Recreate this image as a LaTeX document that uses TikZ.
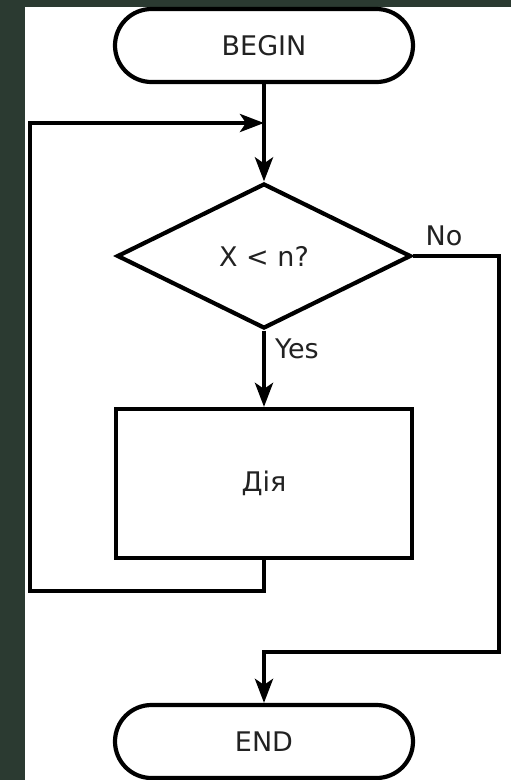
\documentclass[tikz,border=0pt]{standalone}
\usepackage{fontspec}
\setmainfont{DejaVu Sans}
\usetikzlibrary{arrows.meta,shapes.misc,shapes.geometric}
\definecolor{bgdark}{RGB}{43,58,49}
\definecolor{txt}{RGB}{34,34,34}
\tikzset{
  base/.style={draw=black, line width=4.2pt, fill=white, text=txt, font=\fontsize{27}{31}\selectfont},
  term/.style={base, rounded rectangle, minimum width=298pt, minimum height=73pt, inner sep=0pt},
  decision/.style={base, diamond, minimum width=294pt, minimum height=145pt, inner sep=0pt, aspect=2},
  proc/.style={base, rectangle, minimum width=296pt, minimum height=149pt, inner sep=0pt},
  conn/.style={draw=black, line width=4.2pt},
  arr/.style={conn, -{Stealth[length=24pt,width=18pt,inset=6pt]}},
  lbl/.style={text=txt, font=\fontsize{27}{31}\selectfont, inner sep=0pt}
}
\begin{document}
\begin{tikzpicture}[x=1pt,y=-1pt]
\useasboundingbox (0,0) rectangle (511,780);
\fill[bgdark] (0,0) rectangle (511,780);
\fill[white] (25,7) rectangle (511,780);

\node[term] (begin) at (264,45.5) {BEGIN};
\node[decision] (dec) at (264,256) {X < n?};
\node[proc] (act) at (264,483.5) {Дія};
\node[term] (end) at (264,741.5) {END};

\coordinate (merge) at (264,123);
\coordinate (loopL) at (30,591);
\coordinate (noR) at (499,652);

\draw[conn] (begin.south) -- (merge);
\draw[arr] (merge) -- (dec.north);
\draw[arr] (dec.south) -- (act.north);
\draw[arr] (act.south) |- (loopL) |- (merge);
\draw[arr] (dec.east) -| (noR) -| (end.north);

\node[lbl, anchor=west] (yes) at (275,349) {Yes};
\node[lbl] (no) at (444,236) {No};
\end{tikzpicture}
\end{document}
